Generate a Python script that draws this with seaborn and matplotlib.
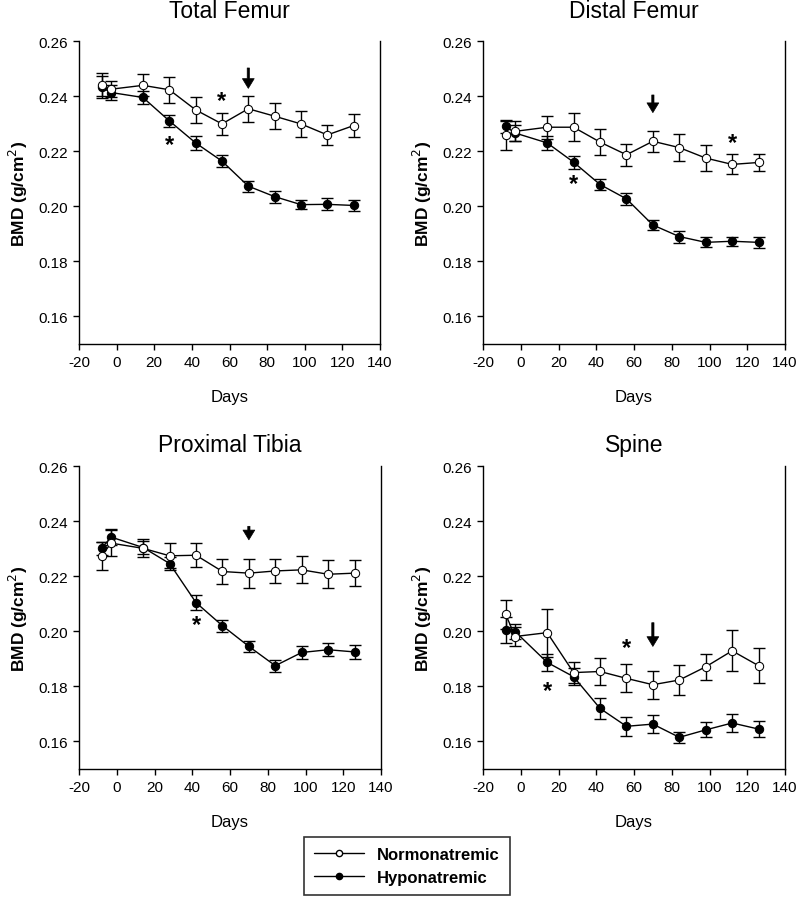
import seaborn as sns
import numpy as np
import pandas as pd
import matplotlib.pyplot as plt
from matplotlib.lines import Line2D

# sampling days (same for every site)
days = [-8, -3, 14, 28, 42, 56, 70, 84, 98, 112, 126]

# Total Femur
tf_normo = [0.2441, 0.2425, 0.2439, 0.2423, 0.2350, 0.2299, 0.2354, 0.2327, 0.2299, 0.2259, 0.2293]
tf_normo_err = [0.0042, 0.0030, 0.0040, 0.0047, 0.0047, 0.0040, 0.0047, 0.0048, 0.0047, 0.0035, 0.0043]
tf_hypo = [0.2432, 0.2413, 0.2395, 0.2310, 0.2230, 0.2164, 0.2073, 0.2035, 0.2006, 0.2007, 0.2003]
tf_hypo_err = [0.0040, 0.0028, 0.0023, 0.0021, 0.0026, 0.0022, 0.0020, 0.0022, 0.0017, 0.0022, 0.0020]

# Distal Femur
df_normo = [0.2257, 0.2272, 0.2287, 0.2287, 0.2233, 0.2187, 0.2236, 0.2213, 0.2175, 0.2152, 0.2159]
df_normo_err = [0.0051, 0.0036, 0.0042, 0.0050, 0.0047, 0.0040, 0.0038, 0.0050, 0.0048, 0.0036, 0.0032]
df_hypo = [0.2290, 0.2266, 0.2230, 0.2160, 0.2079, 0.2027, 0.1932, 0.1890, 0.1869, 0.1873, 0.1869]
df_hypo_err = [0.0024, 0.0030, 0.0024, 0.0024, 0.0021, 0.0021, 0.0019, 0.0022, 0.0018, 0.0017, 0.0020]

# Proximal Tibia
pt_normo = [0.2274, 0.2320, 0.2301, 0.2274, 0.2276, 0.2217, 0.2211, 0.2219, 0.2223, 0.2207, 0.2211]
pt_normo_err = [0.0051, 0.0048, 0.0033, 0.0046, 0.0044, 0.0045, 0.0053, 0.0045, 0.0049, 0.0051, 0.0048]
pt_hypo = [0.2301, 0.2342, 0.2304, 0.2246, 0.2104, 0.2020, 0.1945, 0.1875, 0.1923, 0.1933, 0.1925]
pt_hypo_err = [0.0024, 0.0028, 0.0024, 0.0024, 0.0026, 0.0021, 0.0021, 0.0022, 0.0022, 0.0024, 0.0025]

# Spine
sp_normo = [0.2062, 0.1981, 0.1995, 0.1850, 0.1854, 0.1829, 0.1806, 0.1823, 0.1871, 0.1929, 0.1875]
sp_normo_err = [0.0053, 0.0035, 0.0087, 0.0037, 0.0050, 0.0051, 0.0051, 0.0056, 0.0048, 0.0074, 0.0063]
sp_hypo = [0.2005, 0.1999, 0.1887, 0.1835, 0.1720, 0.1655, 0.1663, 0.1615, 0.1642, 0.1667, 0.1645]
sp_hypo_err = [0.0048, 0.0027, 0.0030, 0.0030, 0.0039, 0.0035, 0.0033, 0.0020, 0.0027, 0.0033, 0.0028]

titles = ["Total Femur", "Distal Femur", "Proximal Tibia", "Spine"]
# asterisk positions (day, BMD) per panel
stars = [[(28, 0.2224), (56, 0.2384)],
         [(28, 0.2081), (112, 0.2233)],
         [(42, 0.2023)],
         [(14, 0.1784), (56, 0.1941)]]
# arrow (day, top, tip) per panel
arrows = [(70, 0.2502, 0.2428), (70, 0.2404, 0.2340),
          (70, 0.2381, 0.2332), (70, 0.2031, 0.1945)]

panels = [(tf_normo, tf_normo_err, tf_hypo, tf_hypo_err),
          (df_normo, df_normo_err, df_hypo, df_hypo_err),
          (pt_normo, pt_normo_err, pt_hypo, pt_hypo_err),
          (sp_normo, sp_normo_err, sp_hypo, sp_hypo_err)]

sns.set_style("ticks")
plt.rcParams['font.family'] = ['Liberation Sans', 'DejaVu Sans']
plt.rcParams['axes.unicode_minus'] = False
plt.rcParams['text.color'] = 'black'
plt.rcParams['axes.labelcolor'] = 'black'
plt.rcParams['xtick.color'] = 'black'
plt.rcParams['ytick.color'] = 'black'

fig = plt.figure(figsize=(7.96, 9.03), dpi=100)
W, H = 796, 903
boxes = [(79, 42, 380, 345), (483, 42, 785, 345),
         (79, 467, 381, 770), (483, 467, 785, 770)]
title_pads = [17, 17, 11, 11]

for i, (l, t, r, b) in enumerate(boxes):
    ax = fig.add_axes([l / W, 1 - b / H, (r - l) / W, (b - t) / H])
    normo, normo_err, hypo, hypo_err = panels[i]
    data = pd.DataFrame({"day": days * 2,
                         "bmd": hypo + normo,
                         "group": ["Hyponatremic"] * len(days) + ["Normonatremic"] * len(days)})
    ax.errorbar(days, hypo, yerr=hypo_err, fmt='none', ecolor='black',
                elinewidth=1, capsize=4.5, capthick=1, zorder=2)
    ax.errorbar(days, normo, yerr=normo_err, fmt='none', ecolor='black',
                elinewidth=1, capsize=4.5, capthick=1, zorder=4)
    sns.lineplot(data=data[data.group == "Hyponatremic"], x="day", y="bmd", ax=ax,
                 color='black', lw=1, marker='o', markersize=6,
                 markerfacecolor='black', markeredgecolor='black', zorder=3)
    sns.lineplot(data=data[data.group == "Normonatremic"], x="day", y="bmd", ax=ax,
                 color='black', lw=1, marker='o', markersize=6,
                 markerfacecolor='white', markeredgecolor='black', zorder=5)

    for sx, sy in stars[i]:
        ax.text(sx, sy, "*", ha='center', va='center', fontsize=17, fontweight='bold')
    axx, ytop, ytip = arrows[i]
    ax.annotate("", xy=(axx, ytip), xytext=(axx, ytop),
                arrowprops=dict(width=1.6, headwidth=8.5, headlength=7,
                                facecolor='black', edgecolor='black', lw=0.5,
                                shrink=0))

    ax.set_xlim(-20, 140)
    ax.set_ylim(0.15, 0.26)
    ax.set_xticks(np.arange(-20, 141, 20))
    ax.set_yticks([0.16, 0.18, 0.20, 0.22, 0.24, 0.26])
    ax.set_yticklabels(["0.16", "0.18", "0.20", "0.22", "0.24", "0.26"])
    ax.tick_params(axis='both', labelsize=11, length=4, width=1, color='black',
                   labelcolor='black', direction='out', pad=4)
    ax.spines['top'].set_visible(False)
    for s in ['left', 'right', 'bottom']:
        ax.spines[s].set_color('black')
        ax.spines[s].set_linewidth(1)
    ax.set_xlabel("Days", fontsize=12, labelpad=14, color='black')
    ax.set_ylabel("BMD (g/cm$^2$)", fontsize=12.5, fontweight='bold', labelpad=6,
                  color='black')
    ax.set_title(titles[i], fontsize=16.5, pad=title_pads[i], color='black')

handles = [Line2D([], [], color='black', lw=1, marker='o', markersize=4.5,
                  markerfacecolor='white', markeredgecolor='black'),
           Line2D([], [], color='black', lw=1, marker='o', markersize=4.5,
                  markerfacecolor='black', markeredgecolor='black')]
leg = fig.legend(handles, ["Normonatremic", "Hyponatremic"],
                 loc='center', bbox_to_anchor=(407 / W, 1 - 867 / H),
                 frameon=True, fancybox=False, edgecolor='black',
                 prop={'size': 12, 'weight': 'bold'}, handlelength=3,
                 borderpad=0.6, labelspacing=0.45)
leg.get_frame().set_linewidth(1.2)
for txt in leg.get_texts():
    txt.set_color('black')

fig.savefig("out.png", dpi=100)
